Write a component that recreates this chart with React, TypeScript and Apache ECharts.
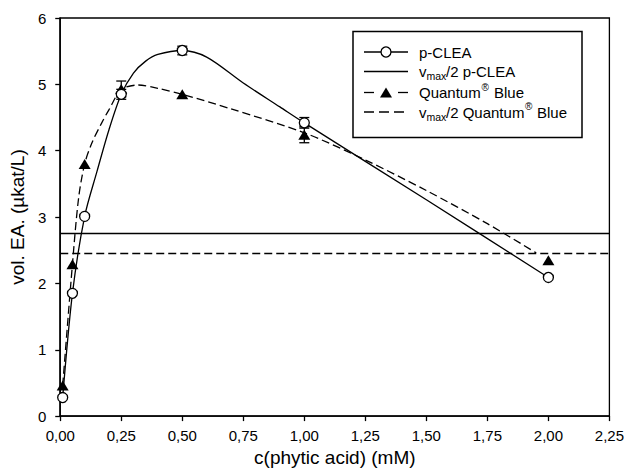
import React, { useEffect, useRef } from "react";
import * as echarts from "echarts";

// measured concentrations (mM)
const concX = [0.01, 0.05, 0.1, 0.25, 0.5, 1.0, 2.0];
// p-CLEA measured activity (µkat/L) and error
const pcleaY = [0.28, 1.85, 3.01, 4.85, 5.51, 4.42, 2.09];
const pcleaErr = [0, 0, 0, 0.075, 0.065, 0.08, 0];
// Quantum Blue measured activity and error
const quantumY = [0.46, 2.29, 3.8, 4.93, 4.85, 4.24, 2.35];
const quantumErr = [0, 0, 0, 0.12, 0, 0.12, 0];

// fitted curves
const pcleaFitX = [0.01, 0.05, 0.1, 0.15, 0.2, 0.25, 0.3, 0.35, 0.4, 0.5, 0.6, 0.75, 0.9, 1.0, 1.5, 2.0];
const pcleaFitY = [0.28, 1.85, 3.01, 3.68, 4.32, 4.85, 5.17, 5.35, 5.45, 5.51, 5.41, 5.02, 4.66, 4.42, 3.26, 2.09];
const quantumFitX = [0.01, 0.05, 0.075, 0.1, 0.13, 0.17, 0.2, 0.25, 0.32, 0.4, 0.5, 0.7, 1.0, 1.25, 1.5, 1.75, 1.95];
const quantumFitY = [0.46, 2.29, 3.28, 3.8, 4.12, 4.42, 4.62, 4.92, 4.99, 4.94, 4.85, 4.63, 4.27, 3.86, 3.4, 2.9, 2.46];

// vmax/2 levels
const vmaxHalfPclea = 2.76;
const vmaxHalfQuantum = 2.45;

const xTicks = { min: 0, max: 2.25, interval: 0.25 };
const yTicks = { min: 0, max: 6, interval: 1 };

const FONT = "'Liberation Sans', Arial, Helvetica, sans-serif";

export default function App() {
  const ref = useRef<HTMLDivElement>(null);
  useEffect(() => {
    if (!ref.current) return;
    const chart = echarts.init(ref.current, null, { renderer: "svg" });

    const errData = (ys: number[], es: number[]) =>
      concX
        .map((x, i) => [x, ys[i] - es[i], ys[i] + es[i]])
        .filter((_, i) => es[i] > 0);

    const errorSeries = (name: string, data: number[][]) => ({
      type: "custom",
      name,
      z: 3,
      data,
      renderItem: (params: any, api: any) => {
        const x = api.value(0);
        const lo = api.coord([x, api.value(1)]);
        const hi = api.coord([x, api.value(2)]);
        const s = { stroke: "#000", lineWidth: 1.3 };
        return {
          type: "group",
          children: [
            { type: "line", shape: { x1: lo[0], y1: lo[1], x2: hi[0], y2: hi[1] }, style: s },
            { type: "line", shape: { x1: lo[0] - 5, y1: lo[1], x2: lo[0] + 5, y2: lo[1] }, style: s },
            { type: "line", shape: { x1: hi[0] - 5, y1: hi[1], x2: hi[0] + 5, y2: hi[1] }, style: s },
          ],
        };
      },
    });

    const legendX = 353;
    const legendY = 31.5;
    const rows = [52, 71.5, 92.5, 112];
    const txt = (x: number, y: number, text: string, size = 15) => ({
      type: "text",
      x,
      y,
      z: 102,
      style: { text, fontSize: size, fontFamily: FONT, fill: "#000", textVerticalAlign: "middle", textAlign: "left" },
    });
    const seg = (x1: number, x2: number, y: number, dash?: number[]) => ({
      type: "line",
      z: 102,
      shape: { x1, y1: y, x2, y2: y },
      style: { stroke: "#000", lineWidth: 1.3, lineDash: dash },
    });

    const option: any = {
      animation: false,
      grid: { left: 58, right: 16, top: 18, bottom: 54, show: true, borderColor: "#000", borderWidth: 1.3 },
      xAxis: {
        type: "value",
        min: xTicks.min,
        max: xTicks.max,
        interval: xTicks.interval,
        name: "c(phytic acid) (mM)",
        nameLocation: "middle",
        nameGap: 27,
        nameTextStyle: { fontSize: 19, fontFamily: FONT, color: "#000" },
        axisLine: { lineStyle: { color: "#000", width: 1.5 } },
        axisTick: { length: 5, lineStyle: { color: "#000", width: 1.3 } },
        axisLabel: {
          fontSize: 15,
          fontFamily: FONT,
          color: "#000",
          margin: 12,
          formatter: (v: number) => v.toFixed(2).replace(".", ","),
        },
        splitLine: { show: false },
      },
      yAxis: {
        type: "value",
        min: yTicks.min,
        max: yTicks.max,
        interval: yTicks.interval,
        name: "vol. EA. (µkat/L)",
        nameLocation: "middle",
        nameGap: 29,
        nameTextStyle: { fontSize: 19, fontFamily: FONT, color: "#000" },
        axisLine: { lineStyle: { color: "#000", width: 1.5 } },
        axisTick: { length: 5, lineStyle: { color: "#000", width: 1.3 } },
        axisLabel: { fontSize: 15, fontFamily: FONT, color: "#000", margin: 14 },
        splitLine: { show: false },
      },
      series: [
        {
          type: "line",
          name: "p-CLEA fit",
          data: pcleaFitX.map((x, i) => [x, pcleaFitY[i]]),
          smooth: 0.3,
          showSymbol: false,
          symbol: "none",
          lineStyle: { color: "#000", width: 1.3 },
          z: 2,
          markLine: {
            silent: true,
            symbol: "none",
            label: { show: false },
            lineStyle: { color: "#000", width: 1.3, type: "solid" },
            data: [{ yAxis: vmaxHalfPclea }],
          },
        },
        {
          type: "line",
          name: "Quantum fit",
          data: quantumFitX.map((x, i) => [x, quantumFitY[i]]),
          smooth: 0.3,
          showSymbol: false,
          symbol: "none",
          lineStyle: { color: "#000", width: 1.3, type: [8, 4] },
          z: 2,
          markLine: {
            silent: true,
            symbol: "none",
            label: { show: false },
            lineStyle: { color: "#000", width: 1.3, type: [8, 4] },
            data: [{ yAxis: vmaxHalfQuantum }],
          },
        },
        errorSeries("p-CLEA err", errData(pcleaY, pcleaErr)),
        errorSeries("Quantum err", errData(quantumY, quantumErr)),
        {
          type: "scatter",
          name: "Quantum Blue",
          data: concX.map((x, i) => [x, quantumY[i]]),
          symbol: "triangle",
          symbolSize: [12, 10],
          itemStyle: { color: "#000", opacity: 1 },
          z: 4,
        },
        {
          type: "scatter",
          name: "p-CLEA",
          data: concX.map((x, i) => [x, pcleaY[i]]),
          symbol: "circle",
          symbolSize: 10,
          itemStyle: { color: "#fff", borderColor: "#000", borderWidth: 1.3, opacity: 1 },
          z: 5,
        },
      ],
      graphic: [
        {
          type: "rect",
          z: 100,
          shape: { x: legendX, y: legendY, width: 229, height: 106 },
          style: { fill: "#fff", stroke: "#000", lineWidth: 1.5 },
        },
        seg(364, 408, rows[0]),
        { type: "circle", z: 103, shape: { cx: 386, cy: rows[0], r: 5 }, style: { fill: "#fff", stroke: "#000", lineWidth: 1.3 } },
        txt(419, rows[0], "p-CLEA"),
        seg(364, 408, rows[1]),
        txt(419, rows[1], "v"),
        txt(426.5, rows[1] + 4.5, "max", 10.5),
        txt(446, rows[1], "/2 p-CLEA"),
        seg(364, 374, rows[2]),
        seg(398, 408, rows[2]),
        {
          type: "polygon",
          z: 103,
          shape: { points: [[386, rows[2] - 5], [392, rows[2] + 5], [380, rows[2] + 5]] },
          style: { fill: "#000" },
        },
        txt(419, rows[2], "Quantum"),
        txt(481.5, rows[2] - 5.5, "®", 10),
        txt(494, rows[2], "Blue"),
        seg(364, 408, rows[3], [10, 5]),
        txt(419, rows[3], "v"),
        txt(426.5, rows[3] + 4.5, "max", 10.5),
        txt(446, rows[3], "/2 Quantum"),
        txt(525, rows[3] - 5.5, "®", 10),
        txt(537, rows[3], "Blue"),
      ],
    };
    chart.setOption(option);
    return () => chart.dispose();
  }, []);
  return <div ref={ref} style={{ width: 627, height: 472, position: "absolute", left: 0, top: 0 }} />;
}
